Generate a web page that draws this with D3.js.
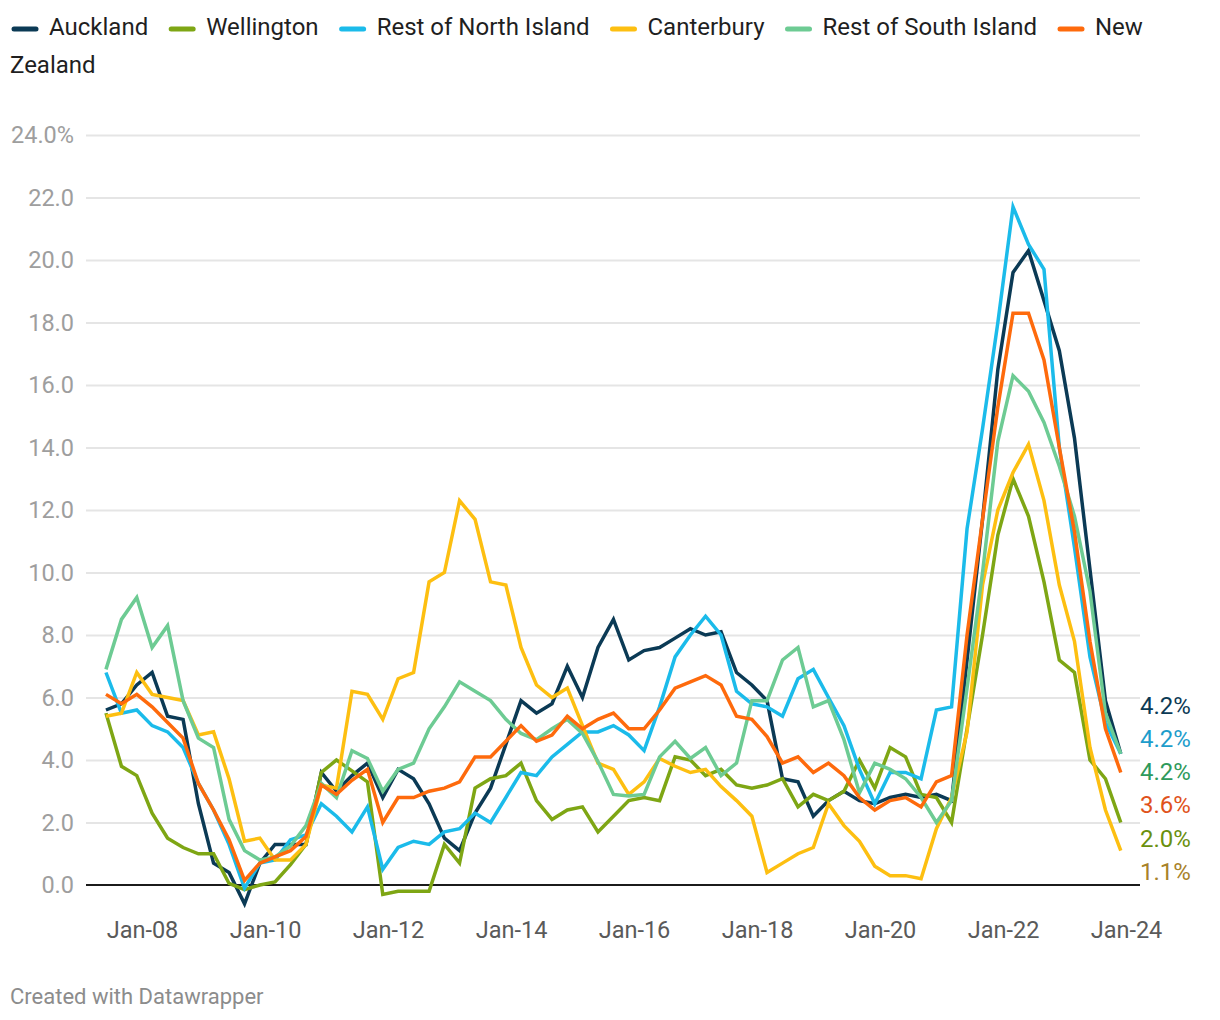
<!DOCTYPE html>
<html><head><meta charset="utf-8">
<script src="https://cdn.jsdelivr.net/npm/d3@7"></script>
<style>
body{margin:0;background:#fff;}
svg{display:block;font-family:Roboto,"Noto Sans",sans-serif;}
</style>
</head><body>
<svg id="chart" width="1220" height="1020"></svg>
<script>
// ---------- DATA ----------
const quarters = [
"2007-06","2007-09","2007-12",
"2008-03","2008-06","2008-09","2008-12",
"2009-03","2009-06","2009-09","2009-12",
"2010-03","2010-06","2010-09","2010-12",
"2011-03","2011-06","2011-09","2011-12",
"2012-03","2012-06","2012-09","2012-12",
"2013-03","2013-06","2013-09","2013-12",
"2014-03","2014-06","2014-09","2014-12",
"2015-03","2015-06","2015-09","2015-12",
"2016-03","2016-06","2016-09","2016-12",
"2017-03","2017-06","2017-09","2017-12",
"2018-03","2018-06","2018-09","2018-12",
"2019-03","2019-06","2019-09","2019-12",
"2020-03","2020-06","2020-09","2020-12",
"2021-03","2021-06","2021-09","2021-12",
"2022-03","2022-06","2022-09","2022-12",
"2023-03","2023-06","2023-09","2023-12"];

const seriesNames = ["Auckland","Wellington","Rest of North Island","Canterbury","Rest of South Island","New Zealand"];

const auckland = [5.6,5.8,6.4, 6.8,5.4,5.3,2.6, 0.7,0.4,-0.6,0.7, 1.3,1.3,1.3,3.6, 3.0,3.5,3.9,2.8,
  3.7,3.4,2.6,1.5, 1.1,2.3,3.1,4.5, 5.9,5.5,5.8,7.0, 6.0,7.6,8.5,7.2, 7.5,7.6,7.9,8.2, 8.0,8.1,6.8,6.4,
  5.9,3.4,3.3,2.2, 2.7,3.0,2.7,2.6, 2.8,2.9,2.8,2.9, 2.7,7.2,11.7,16.5, 19.6,20.3,18.7,17.1, 14.3,10.1,5.9,4.2];

const wellington = [5.5,3.8,3.5, 2.3,1.5,1.2,1.0, 1.0,0.05,-0.15,0.0, 0.1,0.65,1.3,3.6, 4.0,3.65,3.3,-0.3,
  -0.2,-0.2,-0.2,1.3, 0.7,3.1,3.4,3.5, 3.9,2.7,2.1,2.4, 2.5,1.7,2.2,2.7, 2.8,2.7,4.1,4.0, 3.5,3.7,3.2,3.1,
  3.2,3.4,2.5,2.9, 2.7,3.0,4.0,3.1, 4.4,4.1,2.9,2.8, 2.0,5.0,8.0,11.2, 13.0,11.8,9.7,7.2, 6.8,4.0,3.4,2.0];

const restNorthIsland = [6.8,5.5,5.6, 5.1,4.9,4.4,3.25, 2.4,1.3,-0.1,0.7, 0.8,1.45,1.6,2.6, 2.2,1.7,2.5,0.5,
  1.2,1.4,1.3,1.7, 1.8,2.3,2.0,2.8, 3.6,3.5,4.1,4.5, 4.9,4.9,5.1,4.8, 4.3,5.7,7.3,8.0, 8.6,8.0,6.2,5.8,
  5.7,5.4,6.6,6.9, 6.0,5.1,3.7,2.6, 3.6,3.6,3.4,5.6, 5.7,11.4,14.6,18.0, 21.7,20.5,19.7,14.0, 10.8,7.3,5.2,4.2];

const canterbury = [5.4,5.5,6.8, 6.1,6.0,5.9,4.8, 4.9,3.4,1.4,1.5, 0.8,0.8,1.3,3.2, 3.1,6.2,6.1,5.3,
  6.6,6.8,9.7,10.0, 12.3,11.7,9.7,9.6, 7.6,6.4,6.0,6.3, 5.1,3.9,3.7,2.9, 3.3,4.05,3.8,3.6, 3.7,3.15,2.7,2.2,
  0.4,0.7,1.0,1.2, 2.6,1.9,1.4,0.6, 0.3,0.3,0.2,1.8, 2.8,4.9,9.6,12.0, 13.2,14.1,12.3,9.6, 7.8,4.4,2.4,1.1];

const restSouthIsland = [6.9,8.5,9.2, 7.6,8.3,5.9,4.7, 4.4,2.1,1.1,0.8, 0.9,1.25,1.9,3.25, 2.8,4.3,4.05,3.0,
  3.7,3.9,5.0,5.7, 6.5,6.2,5.9,5.3, 4.85,4.65,5.0,5.3, 4.85,3.95,2.9,2.85, 2.9,4.1,4.6,4.05, 4.4,3.5,3.9,5.9,
  5.9,7.2,7.6,5.7, 5.9,4.65,2.95,3.9, 3.7,3.4,2.8,2.0, 2.7,6.3,10.0,14.2, 16.3,15.8,14.8,13.4, 11.8,9.4,5.5,4.2];

const newZealand = [6.1,5.8,6.1, 5.7,5.2,4.7,3.25, 2.4,1.45,0.15,0.7, 0.9,1.1,1.55,3.2, 2.9,3.35,3.7,2.0,
  2.8,2.8,3.0,3.1, 3.3,4.1,4.1,4.6, 5.1,4.6,4.8,5.4, 5.0,5.3,5.5,5.0, 5.0,5.6,6.3,6.5, 6.7,6.4,5.4,5.3,
  4.75,3.9,4.1,3.6, 3.9,3.5,2.8,2.4, 2.7,2.8,2.5,3.3, 3.5,8.0,11.7,15.3, 18.3,18.3,16.8,14.0, 11.3,7.8,5.0,3.6];

const lineColors  = ["#0b3a55","#7ea614","#1bbbea","#fdbf11","#6dcb93","#fe6a0c"];
const labelColors = ["#0b3a55","#1d9dcb","#2e9a5b","#e0521b","#6a900f","#a8822a"];
const yTicks = [0,2,4,6,8,10,12,14,16,18,20,22,24];
const xTickDates  = ["2008-01","2010-01","2012-01","2014-01","2016-01","2018-01","2020-01","2022-01","2024-01"];
const xTickLabels = ["Jan-08","Jan-10","Jan-12","Jan-14","Jan-16","Jan-18","Jan-20","Jan-22","Jan-24"];
const footerText = "Created with Datawrapper";

// ---------- CHART ----------
const svg = d3.select("#chart");
const parse = d3.timeParse("%Y-%m");
const dates = quarters.map(parse);
const left = 86, right = 1140;
const x = d3.scaleTime().domain([parse("2008-01"), parse("2024-01")]).range([142, 1126]);
const y = d3.scaleLinear().domain([0, 24]).range([885, 135]);

const seriesValues = [auckland, wellington, restNorthIsland, canterbury, restSouthIsland, newZealand];
const series = seriesNames.map((name, i) => ({
  name, color: lineColors[i], values: seriesValues[i].map((v, j) => ({date: dates[j], v}))
}));

// y axis with grid
const yAxis = d3.axisLeft(y)
  .tickValues(yTicks)
  .tickSize(-(right - left))
  .tickPadding(12)
  .tickFormat(d => d === 24 ? d3.format(".1f")(d) + "%" : d3.format(".1f")(d));
const gy = svg.append("g").attr("transform", `translate(${left},0)`).call(yAxis);
gy.select(".domain").remove();
gy.selectAll(".tick line").attr("stroke", d => d === 0 ? "none" : "#e5e5e5").attr("stroke-width", 2);
gy.selectAll(".tick text").attr("fill", "#9e9e9e").style("font-size", "23.5px").attr("font-family", "Roboto");

// zero baseline
svg.append("line").attr("x1", left).attr("x2", right).attr("y1", y(0)).attr("y2", y(0))
  .attr("stroke", "#1b1b1b").attr("stroke-width", 2);

// x axis
const xAxis = d3.axisBottom(x)
  .tickValues(xTickDates.map(parse))
  .tickSize(0)
  .tickPadding(36)
  .tickFormat((d, i) => xTickLabels[i]);
const gx = svg.append("g").attr("transform", `translate(0,${y(0)})`).call(xAxis);
gx.select(".domain").remove();
gx.selectAll(".tick text").attr("fill", "#5a5a5a").style("font-size", "23.5px").attr("font-family", "Roboto");

// lines
const line = d3.line().x(d => x(d.date)).y(d => y(d.v));
svg.append("g").selectAll("path").data(series).join("path")
  .attr("d", d => line(d.values))
  .attr("fill", "none")
  .attr("stroke", d => d.color)
  .attr("stroke-width", 3.5)
  .attr("stroke-linejoin", "miter")
  .attr("stroke-linecap", "butt");

// end labels (value labels with collision spreading)
const fmt = v => d3.format(".1f")(v) + "%";
const ends = series.map((s, i) => ({
  text: fmt(s.values[s.values.length - 1].v),
  v: s.values[s.values.length - 1].v,
  idx: i
}));
ends.sort((a, b) => d3.descending(a.v, b.v) || a.idx - b.idx);
ends.forEach((e, k) => e.color = labelColors[k]);
const gap = 33.2;
const meanY = d3.mean(ends, e => y(e.v));
ends.forEach((e, k) => e.ly = meanY + 6 + (k - (ends.length - 1) / 2) * gap);
svg.append("g").selectAll("text").data(ends).join("text")
  .attr("x", 1140).attr("y", d => d.ly)
  .attr("dominant-baseline", "middle")
  .attr("fill", d => d.color)
  .style("font-size", "24px")
  .text(d => d.text);

// legend (flow layout with word wrap)
const lg = svg.append("g").style("font-size", "24px").attr("fill", "#1f1f1f");
let lx = 12, ly = 29;
const lineH = 38, maxX = 1205, swW = 26, swGap = 11, itemGap = 21;
const measure = txt => {
  const t = lg.append("text").text(txt);
  const w = t.node().getComputedTextLength(); t.remove(); return w;
};
series.forEach(s => {
  lg.append("line").attr("x1", lx + 2).attr("x2", lx + swW - 2).attr("y1", ly).attr("y2", ly)
    .attr("stroke", s.color).attr("stroke-width", 5).attr("stroke-linecap", "round");
  let tx = lx + swW + swGap;
  const words = s.name.split(" ");
  let cur = "";
  words.forEach(w => {
    const trial = cur ? cur + " " + w : w;
    if (tx + measure(trial) > maxX && cur) {
      lg.append("text").attr("x", tx).attr("y", ly).attr("dominant-baseline", "middle").text(cur);
      ly += lineH; tx = 10; cur = w;
    } else cur = trial;
  });
  lg.append("text").attr("x", tx).attr("y", ly).attr("dominant-baseline", "middle").text(cur);
  lx = tx + measure(cur) + itemGap;
});

// footer
svg.append("text").attr("x", 10).attr("y", 1004).attr("fill", "#8c8c8c")
  .style("font-size", "22px").text(footerText);
</script>
</body></html>
